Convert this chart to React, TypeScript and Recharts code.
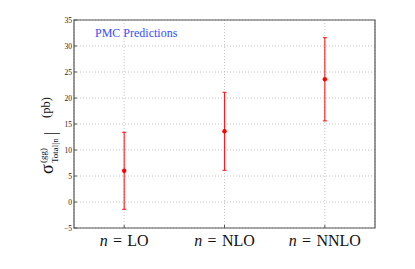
import { ComposedChart, Scatter, ErrorBar, XAxis, YAxis, CartesianGrid, ReferenceArea } from 'recharts';

const orders = ['LO', 'NLO', 'NNLO'];
const positions = [1, 2, 3];
const central = [6.0, 13.6, 23.6];
const errLow = [7.4, 7.5, 8.0];
const errHigh = [7.4, 7.5, 8.0];
const yTicks = [-5, 0, 5, 10, 15, 20, 25, 30, 35];

const data = positions.map((x, i) => ({ x, y: central[i], err: [errLow[i], errHigh[i]], name: orders[i] }));

const serif = { fontFamily: "'Liberation Serif', 'Times New Roman', 'DejaVu Serif', serif" };

function YTick(props: any) {
  const { x, y, payload } = props;
  const v = payload.value;
  return (
    <g>
      <line x1={x + 2} x2={x + 5} y1={y} y2={y} stroke="#555" strokeWidth={1} />
      <text x={x} y={y} dy={2.5} textAnchor="end" fontSize={7.5} style={serif} fill="#222">
        {v < 0 ? `\u2212${Math.abs(v)}` : v}
      </text>
    </g>
  );
}

function XTick(props: any) {
  const { x, y, payload } = props;
  const i = positions.indexOf(payload.value);
  return (
    <g>
      <line x1={x} x2={x} y1={y} y2={y - 3} stroke="#555" strokeWidth={1} />
      <text x={x} y={y + 18} textAnchor="middle" fontSize={16} style={serif} fill="#111">
        <tspan fontStyle="italic">n</tspan>
        <tspan>{'\u2004=\u2004'}{orders[i]}</tspan>
      </text>
    </g>
  );
}

function Dot(props: any) {
  const { cx, cy } = props;
  return <circle cx={cx} cy={cy} r={2.2} fill="#ff0000" />;
}

export default function App() {
  return (
    <div style={{ position: 'absolute', left: 0, top: 0, width: 415, height: 269, background: '#fff' }}>
      <ComposedChart width={415} height={269} margin={{ top: 20, right: 40, bottom: 11, left: 44 }}>
        <CartesianGrid stroke="#c4c4c4" strokeDasharray="1 2" />
        <XAxis
          type="number"
          dataKey="x"
          domain={[0.5, 3.5]}
          ticks={positions}
          tick={<XTick />}
          tickSize={0}
          tickMargin={0}
          axisLine={false}
          tickLine={false}
          height={30}
          interval={0}
        />
        <YAxis
          type="number"
          domain={[-5, 35]}
          ticks={yTicks}
          tick={<YTick />}
          tickSize={0}
          tickMargin={2}
          axisLine={false}
          tickLine={false}
          width={30}
          interval={0}
        />
        <ReferenceArea x1={0.5} x2={3.5} y1={-5} y2={35} fill="none" stroke="#555" strokeWidth={1.2} ifOverflow="visible" />
        <Scatter data={data} dataKey="y" fill="#ff0000" shape={<Dot />} isAnimationActive={false}>
          <ErrorBar dataKey="err" direction="y" width={2} stroke="#ff1a1a" strokeWidth={1.1} isAnimationActive={false} />
        </Scatter>
      </ComposedChart>
      <svg width={415} height={269} style={{ position: 'absolute', left: 0, top: 0, pointerEvents: 'none' }}>
        <text x={95} y={37} fontSize={12} style={serif} fill="#3a4dff">PMC Predictions</text>
        <text transform="translate(53,174) rotate(-90)" style={serif} fill="#111">
          <tspan x={0} y={0} fontSize={18}>σ</tspan>
          <tspan x={11} y={-7} fontSize={9}>(gg)</tspan>
          <tspan x={11} y={5} fontSize={9}>Total|n</tspan>
          <tspan x={39} y={3} fontSize={17}>|</tspan>
          <tspan x={56} y={-3} fontSize={12.5}>(pb)</tspan>
        </text>
      </svg>
    </div>
  );
}
